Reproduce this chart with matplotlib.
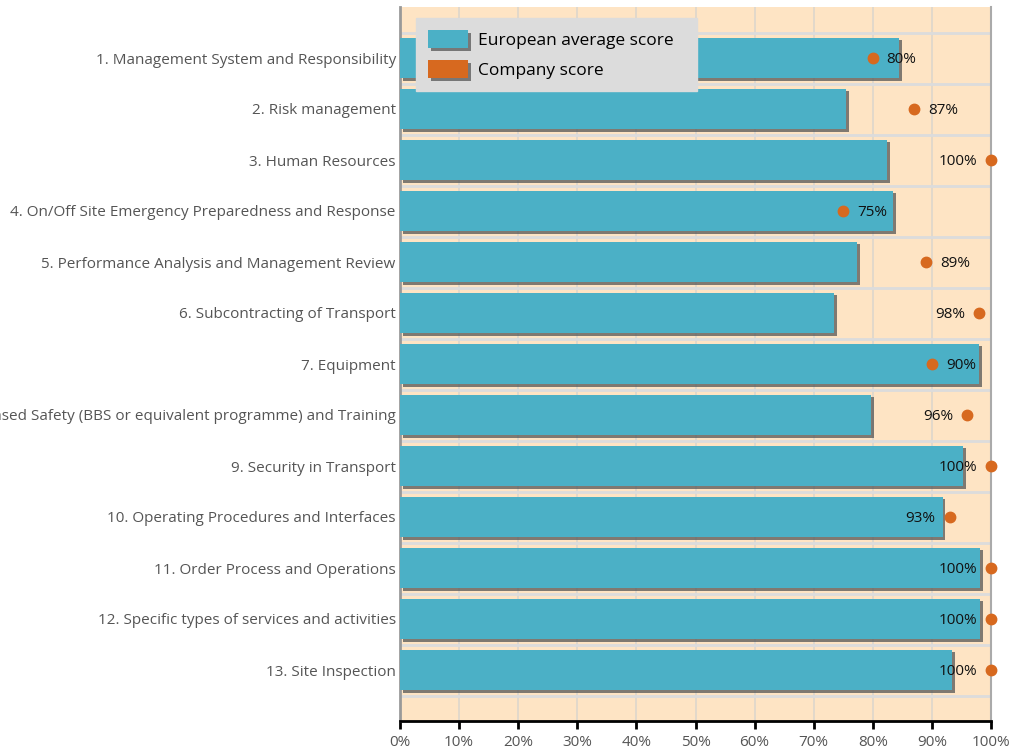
import matplotlib.pyplot as plt
import matplotlib.patheffects as pe
from matplotlib.patches import Patch
from matplotlib.ticker import FuncFormatter, MultipleLocator

plt.rcParams["font.family"] = ["Open Sans", "DejaVu Sans"]

categories = [
    "1. Management System and Responsibility",
    "2. Risk management",
    "3. Human Resources",
    "4. On/Off Site Emergency Preparedness and Response",
    "5. Performance Analysis and Management Review",
    "6. Subcontracting of Transport",
    "7. Equipment",
    "8. Behaviour Based Safety (BBS or equivalent programme) and Training",
    "9. Security in Transport",
    "10. Operating Procedures and Interfaces",
    "11. Order Process and Operations",
    "12. Specific types of services and activities",
    "13. Site Inspection",
]
european_avg = [84.5, 75.5, 82.4, 83.4, 77.3, 73.4, 98.0, 79.7, 95.3, 91.8, 98.1, 98.1, 93.4]
company = [80, 87, 100, 75, 89, 98, 90, 96, 100, 93, 100, 100, 100]

bar_color = "#4bb0c6"
dot_color = "#d7691f"
bg_color = "#fee4c4"

fig = plt.figure(figsize=(10.22, 7.48), dpi=100)
ax = fig.add_axes([400 / 1022, 1 - 721 / 748, 591 / 1022, 714 / 748])
ax.set_facecolor(bg_color)

y = list(range(len(categories)))
shadow = [pe.SimplePatchShadow(offset=(2, -2), shadow_rgbFace="#555555", alpha=0.75), pe.Normal()]
bars = ax.barh(y, european_avg, height=0.8, color=bar_color, zorder=3)
for b in bars:
    b.set_path_effects(shadow)

ax.plot(company, y, "o", color=dot_color, ms=7.5, zorder=5, clip_on=False)
for v, yi in zip(company, y):
    if v > 90:
        ax.annotate(f"{v}%", (v, yi), xytext=(-10, -1), textcoords="offset points",
                    ha="right", va="center", fontsize=11, color="#111111", zorder=6)
    else:
        ax.annotate(f"{v}%", (v, yi), xytext=(10, -1), textcoords="offset points",
                    ha="left", va="center", fontsize=11, color="#111111", zorder=6)

ax.set_xlim(0, 100)
ax.set_ylim(len(categories), -1)
ax.set_yticks(y)
ax.set_yticklabels(categories, fontsize=11, color="#555555")
ax.tick_params(axis="y", length=0, pad=3)

ax.xaxis.set_major_locator(MultipleLocator(10))
ax.xaxis.set_major_formatter(FuncFormatter(lambda v, p: f"{int(v)}%"))
ax.tick_params(axis="x", direction="out", length=6, width=2, color="black",
               labelsize=11, labelcolor="#555555", pad=4)

# grid: vertical at 10% steps, horizontal at band edges
for xv in range(10, 100, 10):
    ax.axvline(xv, color="#ddd6cc", lw=1.2, zorder=1)
for yb in [i + 0.5 for i in range(-1, len(categories))]:
    ax.axhline(yb, color="#dcdcdc", lw=2, zorder=1)

ax.spines["top"].set_visible(False)
ax.spines["left"].set_color("#999999")
ax.spines["left"].set_linewidth(2)
ax.spines["right"].set_color("#aaaaaa")
ax.spines["right"].set_linewidth(1.5)
ax.spines["bottom"].set_color("black")
ax.spines["bottom"].set_linewidth(2)

handles = [
    Patch(facecolor=bar_color, label="European average score", path_effects=shadow),
    Patch(facecolor=dot_color, label="Company score", path_effects=shadow),
]
leg = ax.legend(handles=handles, loc="upper left",
                bbox_to_anchor=(16 / 591, 1 - 81 / 714, 281 / 591, 70 / 714),
                mode="expand", borderaxespad=0, fontsize=12.5, frameon=True,
                fancybox=False, facecolor="#dcdcdc", edgecolor="#dcdcdc", framealpha=1,
                handlelength=2.3, handleheight=1.2, handletextpad=0.55,
                labelspacing=0.65, borderpad=0.7)
leg.set_zorder(10)

fig.savefig("out.png", dpi=100)
